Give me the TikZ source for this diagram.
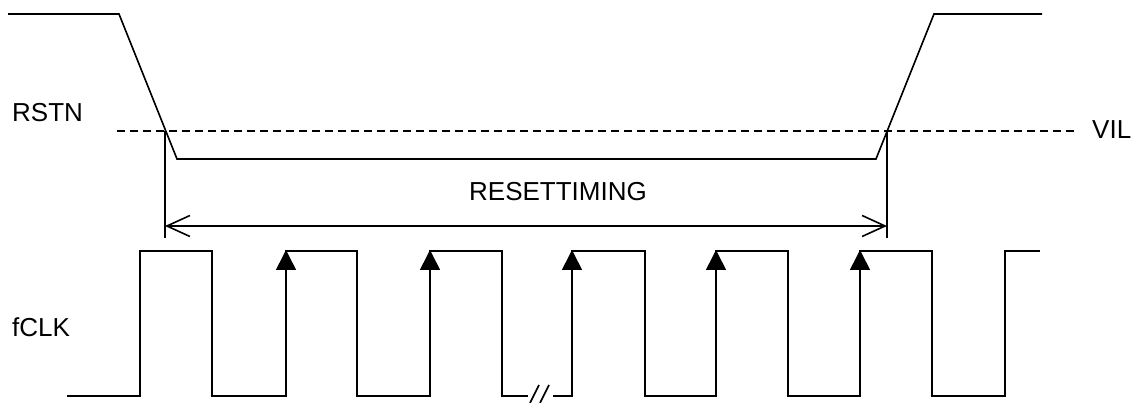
\documentclass[tikz,border=0pt]{standalone}
\usepackage{fontspec}
\setmainfont{Liberation Sans}
\usetikzlibrary{arrows.meta}
\begin{document}
\begin{tikzpicture}[x=1pt,y=-1pt,
  wave/.style={line width=1.6pt, line join=miter},
  vil/.style={line width=1.6pt, dash pattern=on 8pt off 5pt},
  dimline/.style={line width=1.6pt, {Straight Barb[length=23pt,width=21pt,line width=1.6pt]}-{Straight Barb[length=23pt,width=21pt,line width=1.6pt]}},
  edgearrow/.style={line width=1.6pt, -{Triangle[length=20pt,width=20pt]}, shorten >=-1pt},
  lbl/.style={font=\fontsize{26}{30}\selectfont, inner sep=0pt}]
\useasboundingbox (0,0) rectangle (1138,403);
% labels
\node[lbl, anchor=west] (rstn) at (12,113) {RSTN};
\node[lbl, anchor=west] (vil) at (1092,130) {VIL};
\node[lbl] (rt) at (558,192) {RESETTIMING};
\node[lbl, anchor=west] (fclk) at (12,327) {fCLK};
% coordinates for RSTN
\coordinate (r0) at (8,14);
\coordinate (r1) at (119,14);
\coordinate (r2) at (177,159);
\coordinate (r3) at (876,159);
\coordinate (r4) at (934,14);
\coordinate (r5) at (1042,14);
\draw[wave] (r0) -- (r1) -- (r2) -- (r3) -- (r4) -- (r5);
% VIL dashed
\coordinate (v0) at (117,131);
\coordinate (v1) at (1078,131);
\draw[vil] (v0) -- (v1);
% extension lines
\coordinate (eL0) at (165,131);
\coordinate (eL1) at (165,238);
\coordinate (eR0) at (887,131);
\coordinate (eR1) at (887,238);
\draw[wave] (eL0) -- (eL1);
\draw[wave] (eR0) -- (eR1);
\coordinate (dL) at (165,226);
\coordinate (dR) at (887,226);
\draw[dimline] (dL) -- (dR);
% clock
\def\hi{251}\def\lo{396}
\draw[wave] (67,\lo) -- (140,\lo) -- (140,\hi) -- (212,\hi) -- (212,\lo) -- (286,\lo) -- (286,\hi)
  -- (357,\hi) -- (357,\lo) -- (430,\lo) -- (430,\hi) -- (502,\hi) -- (502,\lo) -- (528,\lo);
\draw[wave] (553,\lo) -- (572,\lo) -- (572,\hi) -- (645,\hi) -- (645,\lo) -- (716,\lo) -- (716,\hi)
  -- (788,\hi) -- (788,\lo) -- (860,\lo) -- (860,\hi) -- (932,\hi) -- (932,\lo) -- (1005,\lo) -- (1005,\hi) -- (1040,\hi);
% break marks
\draw[wave] (530,403) -- (539,385);
\draw[wave] (540,403) -- (549,385);
% edge arrows
\foreach \x/\n in {286/a,430/b,572/c,716/d,860/e}{
  \coordinate (\n0) at (\x,300);
  \coordinate (\n1) at (\x,\hi);
  \draw[edgearrow] (\n0) -- (\n1);
}
\end{tikzpicture}
\end{document}
